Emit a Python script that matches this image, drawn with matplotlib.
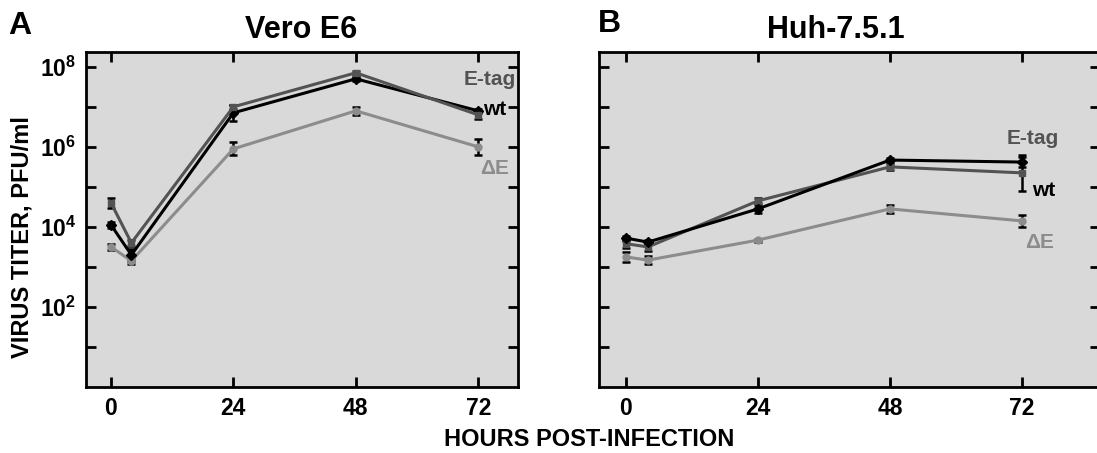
import numpy as np
import matplotlib
matplotlib.use("Agg")
import matplotlib.pyplot as plt

plt.rcParams["font.family"] = ["Liberation Sans", "DejaVu Sans"]
plt.rcParams["font.weight"] = "bold"
plt.rcParams["mathtext.fontset"] = "custom"
plt.rcParams["mathtext.rm"] = "Liberation Sans:bold"
plt.rcParams["mathtext.bf"] = "Liberation Sans:bold"
plt.rcParams["mathtext.it"] = "Liberation Sans:bold"

# hours post-infection
hours = [0, 4, 24, 48, 72]

# log10 titers (PFU/ml), panel A: Vero E6
vero_wt = [4.05, 3.30, 6.85, 7.70, 6.90]
vero_wt_err = [0.07, 0.15, 0.20, 0.05, 0.05]
vero_etag = [4.60, 3.60, 7.00, 7.85, 6.80]
vero_etag_err = [0.12, 0.08, 0.05, 0.05, 0.10]
vero_de = [3.50, 3.15, 5.95, 6.90, 6.00]
vero_de_err = [0.07, 0.07, 0.16, 0.10, 0.20]

# panel B: Huh-7.5.1
huh_wt = [3.72, 3.62, 4.45, 5.67, 5.62]
huh_wt_err = [0.06, 0.05, 0.10, 0.05, 0.12]
huh_etag = [3.58, 3.50, 4.65, 5.50, 5.35]
huh_etag_err = [0.10, 0.10, 0.06, 0.08, 0.45]
huh_de = [3.25, 3.17, 3.67, 4.45, 4.15]
huh_de_err = [0.12, 0.10, 0.04, 0.10, 0.15]

C_WT = "#000000"
C_ETAG = "#535353"
C_DE = "#8c8c8c"
BG = "#d9d9d9"

W, H = 1097, 453
fig = plt.figure(figsize=(W / 100, H / 100), dpi=100)

axA = fig.add_axes([86 / W, 1 - 387 / H, (518 - 86) / W, (387 - 52) / H])
axB = fig.add_axes([599 / W, 1 - 387 / H, (1100 - 599) / W, (387 - 52) / H])


def draw(ax, series, xlim, labels):
    for vals, err, col, mk in series:
        v = np.array(vals)
        e = np.array(err)
        y = 10 ** v
        lo = y - 10 ** (v - e)
        hi = 10 ** (v + e) - y
        ax.errorbar(hours, y, yerr=[lo, hi], color=col, ecolor="black",
                    lw=2.2, elinewidth=1.8, capsize=3, capthick=1.8,
                    marker=mk, ms=5, mec=col, mfc=col)
    ax.set_yscale("log")
    ax.set_ylim(1, 10 ** 8.37)
    ax.set_xlim(*xlim)
    ax.set_facecolor(BG)
    ax.set_xticks([0, 24, 48, 72])
    ax.set_yticks([10.0 ** k for k in range(1, 9)])
    ax.yaxis.set_minor_locator(matplotlib.ticker.NullLocator())
    ax.tick_params(direction="in", length=7, width=2, top=True, right=True,
                   labelsize=16.5, pad=7)
    for s in ax.spines.values():
        s.set_linewidth(2)
    for txt, x, y, col in labels:
        ax.text(x, 10 ** y, txt, color=col, fontsize=15, fontweight="bold",
                ha="left", va="center")


draw(axA,
     [(vero_de, vero_de_err, C_DE, "o"),
      (vero_wt, vero_wt_err, C_WT, "D"),
      (vero_etag, vero_etag_err, C_ETAG, "s")],
     (-4.9, 79.8),
     [("E-tag", 69.1, 7.68, C_ETAG), ("wt", 73.0, 6.94, C_WT),
      ("\u0394E", 72.4, 5.46, C_DE)])
axA.set_yticklabels([("$10^{%d}$" % k) if k % 2 == 0 else "" for k in range(1, 9)])

draw(axB,
     [(huh_de, huh_de_err, C_DE, "o"),
      (huh_etag, huh_etag_err, C_ETAG, "s"),
      (huh_wt, huh_wt_err, C_WT, "D")],
     (-4.9, 86.2),
     [("E-tag", 69.3, 6.2, C_ETAG), ("wt", 73.8, 4.91, C_WT),
      ("\u0394E", 72.5, 3.6, C_DE)])
axB.set_yticklabels([])

fig.text(301 / W, 1 - 30 / H, "Vero E6", fontsize=22, fontweight="bold",
         ha="center", va="center")
fig.text(836 / W, 1 - 30 / H, "Huh-7.5.1", fontsize=22, fontweight="bold",
         ha="center", va="center")
fig.text(20 / W, 1 - 26 / H, "A", fontsize=23, fontweight="bold",
         ha="center", va="center")
fig.text(609 / W, 1 - 24 / H, "B", fontsize=23, fontweight="bold",
         ha="center", va="center")
fig.text(22 / W, 1 - 237 / H, "VIRUS TITER, PFU/ml", fontsize=17,
         fontweight="bold", rotation=90, ha="center", va="center")
fig.text(589 / W, 1 - 439 / H, "HOURS POST-INFECTION", fontsize=17,
         fontweight="bold", ha="center", va="center")

fig.savefig("out.png", dpi=100)
